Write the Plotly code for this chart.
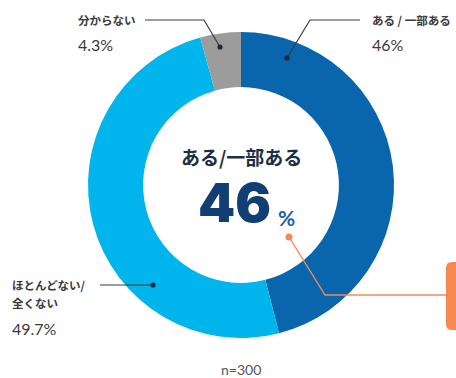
import plotly.graph_objects as go

labels = ["ある / 一部ある", "ほとんどない/全くない", "分からない"]
values = [46.0, 49.7, 4.3]
colors = ["#0A66AC", "#00B4EC", "#9C9C9C"]
center_title = "ある/一部ある"
center_value = "46"
sample_note = "n=300"

W, H = 456, 378
def px(x): return x / W
def py(y): return 1 - y / H

cx, cy, R = 241, 185, 153

fig = go.Figure(go.Pie(
    labels=labels, values=values, sort=False, direction="clockwise", rotation=0,
    hole=0.64, marker=dict(colors=colors, line=dict(width=0)),
    textinfo="none", hoverinfo="label+percent", showlegend=False,
    domain=dict(x=[px(cx - R), px(cx + R)], y=[py(cy + R), py(cy - R)]),
))

JP = "Noto Sans CJK JP"
LAT = "Lato, Noto Sans CJK JP"
dark = "#3a3a3a"
shapes = []
ann = []

def line(pts, color="#3a3a3a", width=1.2):
    path = "M " + " L ".join(f"{px(x)},{py(y)}" for x, y in pts)
    shapes.append(dict(type="path", path=path, xref="paper", yref="paper",
                       line=dict(color=color, width=width)))

def dot(x, y, r=2.6, color="#1b2a3a"):
    shapes.append(dict(type="circle", xref="paper", yref="paper",
                       x0=px(x - r), x1=px(x + r), y0=py(y + r), y1=py(y - r),
                       fillcolor=color, line=dict(width=0)))

def text(x, y, t, size, color=dark, font=JP, anchor="left", weight="normal"):
    ann.append(dict(x=px(x), y=py(y), xref="paper", yref="paper", text=t,
                    showarrow=False, xanchor=anchor, yanchor="middle",
                    font=dict(size=size, color=color, family=font, weight=weight)))

# Top right label
line([(360, 20), (310, 20), (287, 58)])
dot(287, 58)
text(370, 20, labels[0], 11.5, weight="bold")
text(370, 44, f"{values[0]:g}%", 16, font=LAT)

# Top left label
line([(145, 20), (204, 20), (220, 47)])
dot(220, 47)
text(76, 20, labels[2], 11.5, weight="bold")
text(76, 44, f"{values[2]}%", 16, font=LAT)

# Bottom left label
line([(100, 285), (153, 285)])
dot(153, 285)
text(10, 285, "ほとんどない/", 11.5, weight="bold")
text(10, 303, "全くない", 11.5, weight="bold")
text(10, 328, f"{values[1]}%", 16, font=LAT)

# Center
text(cx, 156, center_title, 19, color="#1e2f44", anchor="center", weight="bold")
text(234, 203, center_value, 53, color="#123f73", font="Inter", anchor="center", weight=900)
text(286, 217, "%", 21, color="#1a62a8", font="Lato", anchor="center", weight="bold")

# Orange callout
orange = "#F28A5C"
line([(289, 237), (325, 295), (448, 295)], color=orange, width=1.4)
dot(289, 237, r=3.5, color=orange)
x0, x1, y0, y1, r = 446, 470, 262, 330, 6
shapes.append(dict(type="path", xref="paper", yref="paper",
    path=(f"M {px(x0+r)},{py(y0)} L {px(x1)},{py(y0)} L {px(x1)},{py(y1)} "
          f"L {px(x0+r)},{py(y1)} Q {px(x0)},{py(y1)} {px(x0)},{py(y1-r)} "
          f"L {px(x0)},{py(y0+r)} Q {px(x0)},{py(y0)} {px(x0+r)},{py(y0)} Z"),
    fillcolor="#F7894F", line=dict(width=0)))

text(cx, 369, sample_note, 14, color="#555555", font=LAT, anchor="center")

fig.update_layout(width=W, height=H, margin=dict(l=0, r=0, t=0, b=0),
                  paper_bgcolor="white", plot_bgcolor="white",
                  shapes=shapes, annotations=ann)
fig.write_html("out.html")
